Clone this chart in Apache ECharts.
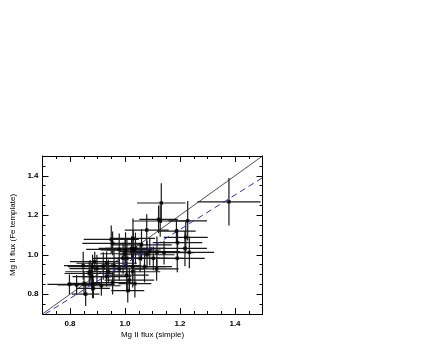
<!DOCTYPE html>
<html>
<head>
<meta charset="utf-8">
<script src="https://cdn.jsdelivr.net/npm/echarts@6/dist/echarts.min.js"></script>
<style>
  html, body { margin: 0; padding: 0; background: #fff; }
  #main { width: 436px; height: 349px; }
</style>
</head>
<body>
<div id="main"></div>
<script>
// Mg II flux: simple measurement vs Fe-template measurement
var fluxSimple = [1.378, 1.132, 1.122, 1.128, 1.228, 1.079, 1.187, 1.221, 0.950, 1.029,
  0.955, 1.191, 0.979, 1.002, 1.024, 1.030, 1.038, 1.218, 1.234, 1.090,
  1.116, 1.142, 1.190, 0.890, 0.993, 1.007, 1.055, 1.103, 0.848, 0.882,
  0.921, 0.933, 0.960, 0.979, 1.028, 1.071, 1.115, 0.873, 0.879, 0.933,
  1.006, 1.016, 1.028, 0.798, 0.824, 0.851, 0.882, 0.885, 0.914, 0.955,
  1.036, 0.857, 1.010, 0.870, 0.898, 0.940, 1.060, 1.080, 1.000];
var fluxTemplate = [1.268, 1.262, 1.179, 1.171, 1.172, 1.125, 1.120, 1.088, 1.078, 1.083,
  1.058, 1.061, 1.027, 1.024, 1.032, 1.024, 1.032, 1.032, 1.012, 1.016,
  1.012, 1.011, 0.982, 0.965, 0.982, 0.982, 0.982, 0.982, 0.945, 0.940,
  0.943, 0.957, 0.945, 0.928, 0.940, 0.940, 0.928, 0.914, 0.889, 0.889,
  0.897, 0.872, 0.914, 0.850, 0.847, 0.855, 0.850, 0.830, 0.843, 0.859,
  0.854, 0.801, 0.818, 0.905, 0.930, 0.915, 1.050, 1.000, 1.005];
var errSimple = [0.115, 0.088, 0.07, 0.10, 0.07, 0.08, 0.07, 0.08, 0.10, 0.08,
  0.11, 0.09, 0.12, 0.09, 0.12, 0.10, 0.11, 0.08, 0.09, 0.11,
  0.10, 0.11, 0.10, 0.09, 0.11, 0.12, 0.10, 0.11, 0.07, 0.09,
  0.10, 0.11, 0.10, 0.09, 0.12, 0.10, 0.08, 0.09, 0.07, 0.09,
  0.08, 0.09, 0.10, 0.08, 0.07, 0.06, 0.08, 0.06, 0.07, 0.07,
  0.06, 0.05, 0.06, 0.09, 0.10, 0.08, 0.11, 0.10, 0.09];
var errTemplate = [0.12, 0.10, 0.07, 0.08, 0.10, 0.08, 0.06, 0.08, 0.07, 0.10,
  0.06, 0.07, 0.08, 0.09, 0.06, 0.10, 0.08, 0.09, 0.08, 0.07,
  0.08, 0.06, 0.07, 0.05, 0.08, 0.10, 0.07, 0.06, 0.07, 0.06,
  0.07, 0.06, 0.08, 0.06, 0.07, 0.08, 0.06, 0.06, 0.07, 0.05,
  0.07, 0.06, 0.08, 0.05, 0.05, 0.06, 0.07, 0.05, 0.05, 0.06,
  0.07, 0.06, 0.06, 0.06, 0.07, 0.06, 0.08, 0.07, 0.08];

// one-to-one line and the fitted (dashed) line
var oneToOne = [[0.7, 0.7], [1.5, 1.5]];
var fitLine = [[0.71, 0.7], [1.5, 1.39]];

var majorTicks = [0.8, 1.0, 1.2, 1.4];
var minorTicks = [0.75, 0.8, 0.85, 0.9, 0.95, 1.0, 1.05, 1.1, 1.15, 1.2, 1.25, 1.3, 1.35, 1.4, 1.45];

var points = fluxSimple.map(function (x, i) {
  return [x, fluxTemplate[i], errSimple[i], errTemplate[i]];
});

var font = 'Liberation Sans, Arial, sans-serif';

// one axis per side for minor ticks (+labels), another for the longer major ticks
function makeAxis(pos, major, withLabel, name, nameGap) {
  var ax = {
    type: 'value',
    position: pos,
    min: 0.7,
    max: 1.5,
    offset: 0,
    splitLine: { show: false },
    axisLine: { show: !major, onZero: false, lineStyle: { color: '#000', width: 1 } },
    axisTick: {
      show: true,
      inside: true,
      length: major ? 6 : 3,
      customValues: major ? majorTicks : minorTicks,
      lineStyle: { color: '#000', width: 1 }
    },
    axisLabel: {
      show: withLabel,
      customValues: majorTicks,
      formatter: function (v) { return v.toFixed(1); },
      color: '#000',
      fontSize: 8,
      fontWeight: 'bold',
      fontFamily: font,
      margin: pos === 'left' ? 4 : 6
    }
  };
  if (name) {
    ax.name = name;
    ax.nameLocation = 'middle';
    ax.nameGap = nameGap;
    ax.nameTextStyle = { color: '#000', fontSize: 8, fontFamily: font };
  }
  return ax;
}

var chart = echarts.init(document.getElementById('main'), null, { renderer: 'canvas' });
chart.setOption({
  animation: false,
  backgroundColor: '#fff',
  grid: { left: 42.5, right: 173.5, top: 156, bottom: 35, containLabel: false },
  xAxis: [
    makeAxis('bottom', false, true, 'Mg II flux (simple)', 17),
    makeAxis('top', false, false),
    makeAxis('bottom', true, false),
    makeAxis('top', true, false)
  ],
  yAxis: [
    makeAxis('left', false, true, 'Mg II flux (Fe template)', 18),
    makeAxis('right', false, false),
    makeAxis('left', true, false),
    makeAxis('right', true, false)
  ],
  series: [
    {
      type: 'custom',
      clip: true,
      data: points,
      renderItem: function (params, api) {
        var x = api.value(0), y = api.value(1), xe = api.value(2), ye = api.value(3);
        var l = api.coord([x - xe, y]), r = api.coord([x + xe, y]);
        var b = api.coord([x, y - ye]), t = api.coord([x, y + ye]);
        var st = { stroke: '#1a1a1a', lineWidth: 1.2 };
        return {
          type: 'group',
          children: [
            { type: 'line', shape: { x1: l[0], y1: l[1], x2: r[0], y2: r[1] }, style: st },
            { type: 'line', shape: { x1: b[0], y1: b[1], x2: t[0], y2: t[1] }, style: st }
          ]
        };
      },
      z: 2
    },
    {
      type: 'line',
      data: oneToOne,
      symbol: 'none',
      lineStyle: { color: '#222', width: 0.8 },
      z: 3
    },
    {
      type: 'line',
      data: fitLine,
      symbol: 'none',
      lineStyle: { color: '#2a2ae0', width: 1, type: [6, 4] },
      z: 3
    },
    {
      type: 'scatter',
      data: points,
      symbol: 'rect',
      symbolSize: 3.5,
      itemStyle: { color: '#000' },
      z: 4
    }
  ]
});
</script>
</body>
</html>
